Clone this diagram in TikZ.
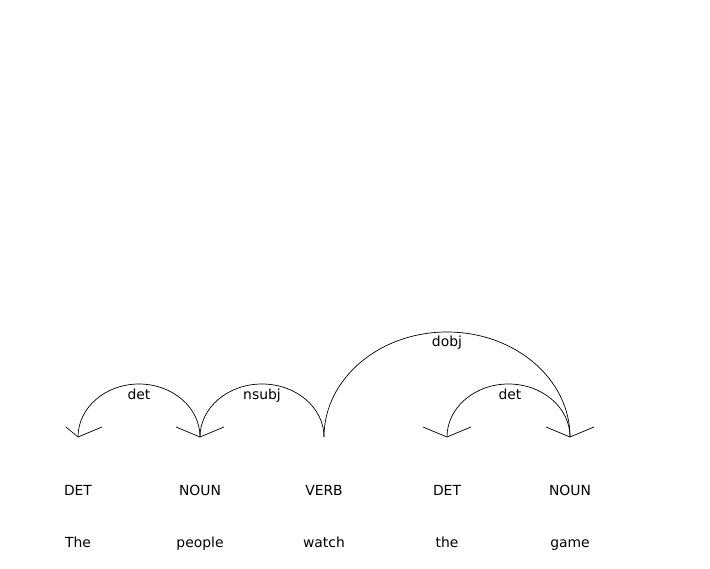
\documentclass[tikz,border=0pt]{standalone}
\usepackage{fontspec}
\setmainfont{DejaVu Sans}
\usetikzlibrary{calc}
\begin{document}
\begin{tikzpicture}[x=1pt,y=1pt,
  txt/.style={font=\fontsize{13.9}{16}\selectfont,anchor=base,inner sep=0pt},
  dep/.style={line width=0.7pt,black},
  head/.style={line width=0.7pt,black}]
\useasboundingbox (0,0) rectangle (710,568);
% tips
\coordinate (t1) at (78,131);
\coordinate (t2) at (200,131);
\coordinate (t3) at (324,131);
\coordinate (t4) at (447,131);
\coordinate (t5) at (570,131);
% tags
\node[txt] (p1) at (78,72.7) {DET};
\node[txt] (p2) at (200,72.7) {NOUN};
\node[txt] (p3) at (324,72.7) {VERB};
\node[txt] (p4) at (447,72.7) {DET};
\node[txt] (p5) at (570,72.7) {NOUN};
% words
\node[txt] (w1) at (78,20.7) {The};
\node[txt] (w2) at (200,20.7) {people};
\node[txt] (w3) at (324,20.7) {watch};
\node[txt] (w4) at (447,20.7) {the};
\node[txt] (w5) at (570,20.7) {game};
% arcs
\draw[dep] (t2) arc[start angle=0,end angle=180,x radius=61,y radius=53];
\draw[dep] (t3) arc[start angle=0,end angle=180,x radius=62,y radius=53];
\draw[dep] (t3) arc[start angle=180,end angle=0,x radius=123,y radius=105];
\draw[dep] (t5) arc[start angle=0,end angle=180,x radius=61.5,y radius=53];
% labels
\node[txt] (l1) at (139,168.2) {det};
\node[txt] (l2) at (262,168.2) {nsubj};
\node[txt] (l3) at (447,221.2) {dobj};
\node[txt] (l4) at (510,168.2) {det};
% arrowheads
\draw[head] ($(t1)+(-12,10)$) -- (t1) -- ++(24,10);
\draw[head] (t2) ++(-24,10) -- (t2) -- ++(24,10);
\draw[head] (t4) ++(-24,10) -- (t4) -- ++(24,10);
\draw[head] (t5) ++(-24,10) -- (t5) -- ++(24,10);
\end{tikzpicture}
\end{document}
